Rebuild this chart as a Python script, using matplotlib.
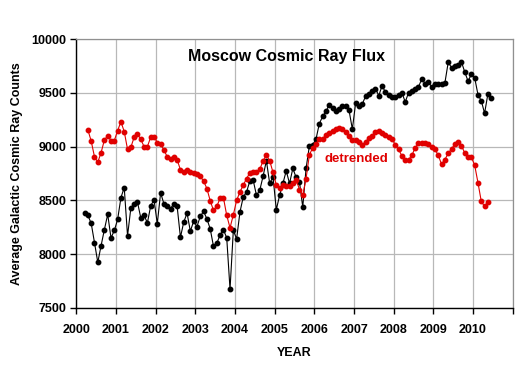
import matplotlib
matplotlib.use("Agg")
import matplotlib.pyplot as plt
import numpy as np

plt.rcParams['font.family'] = ['Liberation Sans', 'DejaVu Sans']

# Monthly values, black series starts March 2000, red (detrended) starts April 2000
raw_counts = [
    8381, 8360, 8287, 8107, 7922, 8078, 8228, 8369, 8150, 8219,
    8322, 8525, 8619, 8169, 8428, 8469, 8484, 8338, 8360, 8290,
    8447, 8507, 8282, 8569, 8469, 8444, 8422, 8469, 8444, 8156,
    8297, 8381, 8213, 8306, 8256, 8350, 8397, 8328, 8235, 8072,
    8100, 8179, 8226, 8151, 7672, 8219, 8141, 8391, 8531, 8578,
    8681, 8688, 8547, 8594, 8725, 8869, 8657, 8719, 8413, 8547,
    8657, 8775, 8657, 8797, 8713, 8672, 8437, 8797, 9006, 9016,
    9069, 9213, 9281, 9328, 9391, 9360, 9328, 9351, 9381, 9381,
    9338, 9163, 9407, 9381, 9397, 9469, 9494, 9522, 9541, 9475,
    9569, 9506, 9478, 9462, 9462, 9478, 9503, 9415, 9503, 9516,
    9535, 9557, 9629, 9588, 9604, 9557, 9588, 9579, 9585, 9595,
    9786, 9737, 9750, 9762, 9790, 9695, 9610, 9674, 9642, 9484,
    9427, 9311, 9491, 9453,
]
detrended = [
    9156, 9053, 8906, 8856, 8944, 9063, 9100, 9056, 9056,
    9150, 9231, 9141, 8975, 8994, 9088, 9119, 9069, 9000, 9000,
    9088, 9094, 9037, 9022, 8969, 8906, 8887, 8900, 8878, 8785,
    8766, 8781, 8766, 8750, 8742, 8722, 8680, 8610, 8497, 8406,
    8444, 8520, 8525, 8360, 8244, 8365, 8500, 8578, 8641, 8703,
    8756, 8766, 8760, 8788, 8869, 8922, 8869, 8760, 8641, 8616,
    8641, 8631, 8631, 8662, 8694, 8600, 8547, 8703, 8922, 8990,
    9025, 9069, 9072, 9109, 9131, 9150, 9163, 9172, 9163, 9141,
    9100, 9063, 9063, 9047, 9016, 9047, 9078, 9100, 9141, 9150,
    9131, 9109, 9090, 9075, 9013, 8975, 8912, 8871, 8880, 8918,
    8991, 9031, 9038, 9031, 9022, 9000, 8975, 8918, 8835, 8880,
    8938, 8977, 9025, 9047, 9010, 8940, 8905, 8901, 8828, 8664,
    8490, 8443, 8481,
]
raw_start_month = 3      # March 2000
detr_start_month = 4     # April 2000
year_ticks = list(range(2000, 2011))
y_ticks = [7500, 8000, 8500, 9000, 9500, 10000]

t_raw = 2000 + (raw_start_month - 1 + np.arange(len(raw_counts)) + 0.5) / 12
t_det = 2000 + (detr_start_month - 1 + np.arange(len(detrended)) + 0.5) / 12

fig = plt.figure(figsize=(5.28, 3.81), dpi=100)
ax = fig.add_axes([0.1445, 0.1924, 0.8265, 0.7045])

ax.plot(t_raw, raw_counts, color='black', lw=0.8, marker='o', ms=3.2,
        mec='black', mfc='black', zorder=3)
ax.plot(t_det, detrended, color='#e00000', lw=0.8, marker='o', ms=3.2,
        mec='#e00000', mfc='#e00000', zorder=4)

ax.set_xlim(2000, 2011)
ax.set_ylim(7500, 10000)
ax.set_xticks(list(range(2000, 2012)))
ax.set_xticklabels([str(y) for y in year_ticks] + [''])
ax.set_yticks(y_ticks)
ax.set_yticklabels([str(v) for v in y_ticks])
ax.grid(True, color='#b8b8b8', lw=0.9)
ax.set_axisbelow(True)

for s in ['top', 'right']:
    ax.spines[s].set_color('#909090')
    ax.spines[s].set_linewidth(0.9)
for s in ['left', 'bottom']:
    ax.spines[s].set_color('black')
    ax.spines[s].set_linewidth(1.0)

ax.tick_params(axis='both', direction='out', length=4, width=1, color='black',
               labelsize=9, pad=3)
for lab in ax.get_xticklabels() + ax.get_yticklabels():
    lab.set_fontweight('bold')
ax.tick_params(axis='x', pad=8)

ax.set_xlabel('YEAR', fontsize=9, fontweight='bold', labelpad=8)
ax.set_ylabel('Average Galactic Cosmic Ray Counts', fontsize=9,
              fontweight='bold', labelpad=6)

ax.text(2005.3, 9836, 'Moscow Cosmic Ray Flux', fontsize=11.5, fontweight='bold',
        ha='center', va='center', color='black')
ax.text(2007.07, 8884, 'detrended', fontsize=9.5, fontweight='bold',
        ha='center', va='center', color='#e00000')

fig.savefig('out.png', dpi=100)
